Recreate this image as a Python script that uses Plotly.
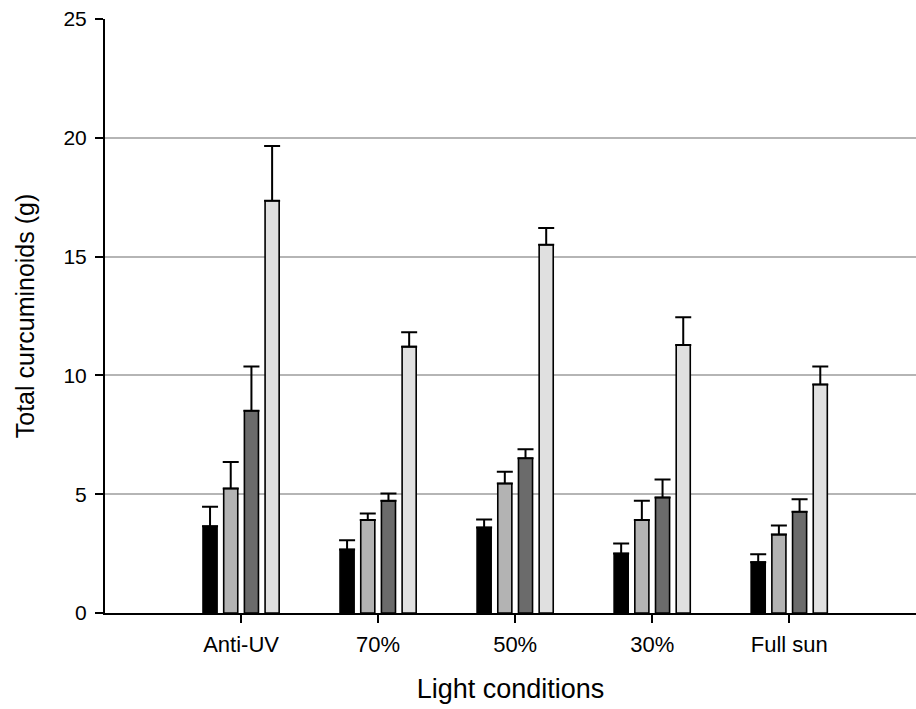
import plotly.graph_objects as go

categories = ["Anti-UV", "70%", "50%", "30%", "Full sun"]

series_names = ["S1", "S2", "S3", "S4"]
series_colors = ["#000000", "#b3b3b3", "#6b6b6b", "#e0e0e0"]

s1_values = [3.65, 2.67, 3.60, 2.50, 2.14]
s1_errors = [0.82, 0.39, 0.34, 0.42, 0.33]

s2_values = [5.24, 3.91, 5.45, 3.91, 3.30]
s2_errors = [1.12, 0.28, 0.49, 0.81, 0.38]

s3_values = [8.51, 4.72, 6.51, 4.86, 4.26]
s3_errors = [1.86, 0.31, 0.38, 0.76, 0.53]

s4_values = [17.35, 11.21, 15.50, 11.28, 9.62]
s4_errors = [2.31, 0.61, 0.70, 1.17, 0.75]

y_ticks = [0, 5, 10, 15, 20, 25]

values = [s1_values, s2_values, s3_values, s4_values]
errors = [s1_errors, s2_errors, s3_errors, s4_errors]

fig = go.Figure()
x_idx = list(range(len(categories)))
for name, col, vals, errs in zip(series_names, series_colors, values, errors):
    fig.add_trace(go.Bar(
        x=x_idx, y=vals, name=name,
        marker=dict(color=col, line=dict(color="#000000", width=1.6)),
        error_y=dict(type="data", array=errs, arrayminus=[0] * len(errs),
                     symmetric=False, color="#000000", thickness=2, width=8),
    ))

font_family = "Liberation Sans, Arial, sans-serif"
fig.update_layout(
    width=916, height=709,
    margin=dict(l=105, r=0, t=19, b=96),
    plot_bgcolor="white", paper_bgcolor="white",
    barmode="group", bargap=0.396, bargroupgap=0.32,
    showlegend=False,
    font=dict(family=font_family, color="#000000"),
    xaxis=dict(
        range=[-0.993, 4.925],
        tickmode="array", tickvals=x_idx, ticktext=categories,
        showline=True, linecolor="#000000", linewidth=2,
        ticks="outside", ticklen=8, tickwidth=2, tickcolor="#000000",
        ticklabelstandoff=3,
        showgrid=False, zeroline=False,
        tickfont=dict(size=22),
        title=dict(text="Light conditions", font=dict(size=27), standoff=23),
    ),
    yaxis=dict(
        range=[0, 25],
        tickmode="array", tickvals=y_ticks,
        showline=True, linecolor="#000000", linewidth=2,
        ticks="outside", ticklen=8, tickwidth=2, tickcolor="#000000",
        ticklabelstandoff=4,
        showgrid=True, gridcolor="#b5b5b5", gridwidth=1.5,
        zeroline=False,
        tickfont=dict(size=21),
        title=dict(text="Total curcuminoids (g)", font=dict(size=25), standoff=22),
    ),
)

fig.write_html(
    "out.html",
    config={"displayModeBar": False},
    post_script="document.body.style.margin='0';document.body.style.overflow='hidden';",
)
